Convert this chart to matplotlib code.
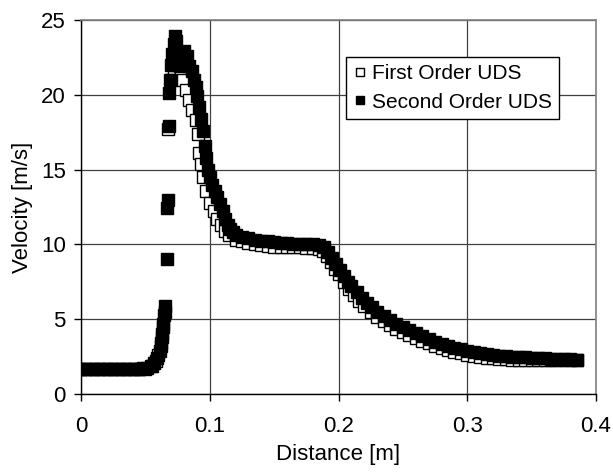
import matplotlib
matplotlib.use('Agg')
import matplotlib.pyplot as plt

# --- данные ---
x_second = [0.000, 0.005, 0.010, 0.015, 0.020, 0.025, 0.030, 0.035, 0.040, 0.045,
            0.048, 0.051, 0.054, 0.057, 0.059, 0.061, 0.062, 0.063, 0.064, 0.0645,
            0.065, 0.067, 0.067, 0.0675, 0.068, 0.0685, 0.069, 0.070, 0.071, 0.072,
            0.073, 0.074, 0.075, 0.076, 0.077, 0.078, 0.080, 0.082, 0.084, 0.086,
            0.088, 0.089, 0.090, 0.092, 0.093, 0.095, 0.096, 0.097, 0.099, 0.100,
            0.102, 0.104, 0.106, 0.108, 0.110, 0.112, 0.114, 0.116, 0.118, 0.120,
            0.125, 0.130, 0.135, 0.140, 0.145, 0.150, 0.155, 0.160, 0.165, 0.170,
            0.175, 0.180, 0.185, 0.189, 0.192, 0.195, 0.198, 0.201, 0.204, 0.207,
            0.210, 0.214, 0.218, 0.222, 0.226, 0.230, 0.235, 0.240, 0.245, 0.250,
            0.255, 0.260, 0.265, 0.270, 0.275, 0.280, 0.285, 0.290, 0.295, 0.300,
            0.305, 0.310, 0.315, 0.320, 0.325, 0.330, 0.335, 0.340, 0.345, 0.350,
            0.355, 0.360, 0.365, 0.370, 0.375, 0.380, 0.385]
y_second = [1.70, 1.70, 1.70, 1.70, 1.70, 1.70, 1.70, 1.70, 1.70, 1.70,
            1.72, 1.75, 1.85, 2.05, 2.40, 2.90, 3.40, 4.00, 4.70, 5.30,
            5.90, 9.00, 12.4, 13.0, 17.9, 20.1, 21.0, 22.0, 22.7, 23.4,
            23.9, 23.6, 22.8, 22.3, 21.9, 22.5, 22.9, 22.6, 21.9, 21.6,
            21.0, 20.5, 19.9, 19.2, 18.4, 17.6, 16.6, 15.8, 15.0, 14.5,
            14.0, 13.6, 13.2, 12.7, 12.2, 11.7, 11.3, 11.0, 10.8, 10.6,
            10.5, 10.4, 10.3, 10.25, 10.2, 10.15, 10.1, 10.1, 10.05, 10.05,
            10.0, 10.0, 9.95, 9.80, 9.50, 9.10, 8.70, 8.30, 7.90, 7.50,
            7.20, 6.80, 6.40, 6.10, 5.80, 5.50, 5.20, 4.95, 4.70, 4.45,
            4.25, 4.05, 3.85, 3.65, 3.50, 3.35, 3.20, 3.10, 3.00, 2.90,
            2.80, 2.72, 2.65, 2.60, 2.56, 2.52, 2.49, 2.47, 2.44, 2.42,
            2.40, 2.38, 2.36, 2.35, 2.33, 2.32, 2.30]

x_first = [0.000, 0.005, 0.010, 0.015, 0.020, 0.025, 0.030, 0.035, 0.040, 0.045,
           0.050, 0.055, 0.058, 0.060, 0.062, 0.063, 0.064, 0.065, 0.0675, 0.070,
           0.072, 0.074, 0.0776, 0.0789, 0.0815, 0.084, 0.0865, 0.089, 0.0905, 0.0915,
           0.093, 0.095, 0.097, 0.100, 0.103, 0.106, 0.109, 0.112, 0.115, 0.120,
           0.125, 0.130, 0.135, 0.140, 0.145, 0.150, 0.155, 0.160, 0.165, 0.170,
           0.175, 0.180, 0.185, 0.188, 0.191, 0.194, 0.197, 0.200, 0.204, 0.208,
           0.212, 0.216, 0.220, 0.225, 0.230, 0.235, 0.240, 0.245, 0.250, 0.255,
           0.260, 0.265, 0.270, 0.275, 0.280, 0.285, 0.290, 0.295, 0.300, 0.305,
           0.310, 0.315, 0.320, 0.325, 0.330, 0.335, 0.340, 0.345, 0.350, 0.355,
           0.360, 0.365, 0.370, 0.375, 0.380, 0.385]
y_first = [1.65, 1.65, 1.65, 1.65, 1.65, 1.65, 1.65, 1.65, 1.65, 1.65,
           1.70, 1.90, 2.20, 2.60, 3.20, 3.80, 4.50, 5.50, 17.7, 21.0,
           21.8, 22.0, 21.5, 21.0, 20.3, 19.65, 19.0, 18.3, 17.4, 16.1,
           15.4, 14.5, 13.6, 12.8, 12.2, 11.7, 11.3, 10.9, 10.6, 10.3,
           10.2, 10.1, 10.0, 9.95, 9.90, 9.85, 9.85, 9.80, 9.80, 9.80,
           9.78, 9.75, 9.70, 9.55, 9.20, 8.80, 8.35, 8.00, 7.50, 7.00,
           6.60, 6.20, 5.85, 5.45, 5.15, 4.85, 4.60, 4.35, 4.15, 3.95,
           3.75, 3.55, 3.38, 3.22, 3.08, 2.95, 2.82, 2.72, 2.62, 2.54,
           2.48, 2.42, 2.38, 2.35, 2.32, 2.30, 2.28, 2.27, 2.26, 2.26,
           2.26, 2.26, 2.27, 2.27, 2.28, 2.28]

x_ticks = [0, 0.1, 0.2, 0.3, 0.4]
x_tick_labels = ['0', '0.1', '0.2', '0.3', '0.4']
y_ticks = [0, 5, 10, 15, 20, 25]

plt.rcParams.update({
    'font.family': ['Liberation Sans', 'DejaVu Sans'],
    'font.size': 16,
})

fig = plt.figure(figsize=(6.13, 4.72), dpi=100)
ax = fig.add_axes([81 / 613, 1 - 394 / 472, (596 - 81) / 613, (394 - 20) / 472])

ax.plot(x_first, y_first, linestyle='none', marker='s', markersize=8,
        markerfacecolor='white', markeredgecolor='black', markeredgewidth=1.0,
        label='First Order UDS', zorder=3)
ax.plot(x_second, y_second, linestyle='none', marker='s', markersize=8,
        markerfacecolor='black', markeredgecolor='black', markeredgewidth=1.0,
        label='Second Order UDS', zorder=4)

ax.set_xlim(0, 0.4)
ax.set_ylim(0, 25)
ax.set_xticks(x_ticks)
ax.set_xticklabels(x_tick_labels)
ax.set_yticks(y_ticks)
ax.grid(True, color='#404040', linewidth=0.9)
ax.set_axisbelow(True)

for side in ('top', 'right'):
    ax.spines[side].set_color('#808080')
    ax.spines[side].set_linewidth(1.2)
for side in ('left', 'bottom'):
    ax.spines[side].set_color('black')
    ax.spines[side].set_linewidth(1.0)

ax.tick_params(direction='out', length=5, width=1, colors='black')
ax.tick_params(axis='x', pad=11)
ax.tick_params(axis='y', pad=6)
ax.set_xlabel('Distance [m]', labelpad=5)
ax.set_ylabel('Velocity [m/s]', labelpad=6)

leg = ax.legend(loc='upper left', bbox_to_anchor=(346 / 613, 1 - 57 / 472),
                bbox_transform=fig.transFigure, borderaxespad=0,
                fancybox=False, framealpha=1, edgecolor='black', fontsize=15,
                handlelength=0.6, handletextpad=0.3, borderpad=0.35,
                labelspacing=0.45, markerscale=0.8)
leg.get_frame().set_linewidth(1.0)

fig.savefig('out.png', dpi=100, facecolor='white')
